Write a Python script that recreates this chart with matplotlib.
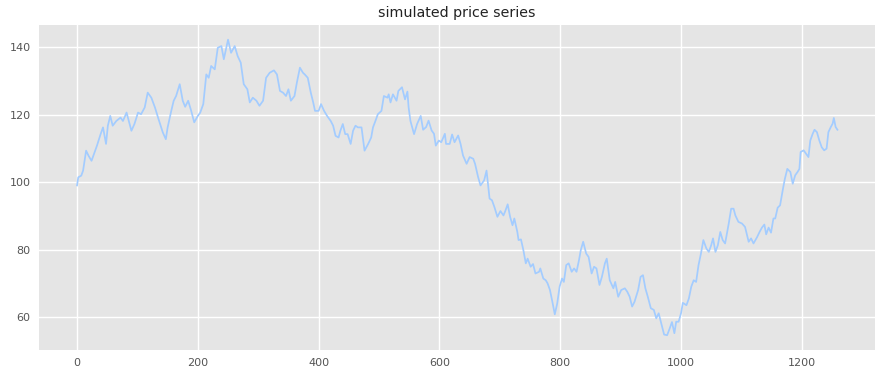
import matplotlib
matplotlib.use("Agg")
import matplotlib.pyplot as plt

# день (індекс) і ціна
days = [0, 2, 7, 10, 15, 19, 24, 29, 33, 39, 43, 48, 51, 55, 59, 65, 72, 76, 82, 90,
        95, 101, 106, 112, 117, 123, 129, 135, 142, 147, 150, 156, 160, 164, 170, 175, 179, 184, 189, 194,
        200, 204, 209, 214, 218, 222, 228, 233, 239, 243, 250, 255, 261, 266, 271, 276, 282, 286, 291, 297,
        302, 308, 313, 319, 326, 331, 336, 341, 346, 350, 354, 360, 364, 369, 374, 377, 382, 387, 391, 394,
        400, 404, 409, 414, 420, 424, 428, 433, 436, 440, 444, 448, 453, 457, 461, 465, 471, 476, 482, 487,
        490, 494, 498, 504, 508, 514, 516, 519, 523, 529, 532, 538, 543, 547, 549, 552, 558, 563, 569, 573,
        578, 582, 587, 591, 594, 599, 603, 609, 611, 617, 621, 625, 631, 635, 639, 645, 650, 656, 659, 664,
        668, 674, 678, 683, 687, 691, 696, 701, 706, 709, 713, 717, 721, 724, 729, 731, 735, 739, 743, 746,
        751, 755, 759, 765, 767, 772, 776, 779, 783, 787, 791, 795, 799, 803, 806, 810, 814, 819, 823, 827,
        831, 834, 838, 843, 847, 852, 856, 860, 865, 869, 874, 877, 882, 888, 891, 896, 901, 907, 911, 915,
        919, 923, 929, 933, 937, 941, 945, 950, 955, 959, 963, 968, 972, 977, 981, 985, 989, 992, 996, 1000,
        1003, 1009, 1013, 1017, 1021, 1025, 1029, 1033, 1037, 1042, 1046, 1050, 1053, 1057, 1061, 1065, 1069, 1073, 1079, 1083,
        1087, 1090, 1095, 1101, 1106, 1112, 1116, 1120, 1126, 1130, 1134, 1138, 1141, 1145, 1149, 1153, 1156, 1160, 1164, 1169,
        1172, 1176, 1181, 1185, 1189, 1193, 1196, 1198, 1203, 1207, 1211, 1214, 1218, 1221, 1225, 1229, 1233, 1237, 1241, 1244,
        1248, 1251, 1253, 1256, 1259]
prices = [99.0, 101.4, 101.9, 103.4, 109.3, 107.8, 106.3, 108.8, 110.8, 114.2, 116.2, 111.3, 116.7, 119.6, 116.7, 118.1, 119.1, 118.1, 120.6, 115.2,
          117.2, 120.6, 120.1, 122.1, 126.5, 125.0, 122.1, 118.6, 114.7, 112.7, 116.2, 121.1, 124.1, 125.5, 129.0, 124.1, 122.3, 124.1, 121.1, 117.7,
          119.6, 120.6, 123.1, 131.9, 130.9, 134.4, 133.4, 139.8, 140.3, 136.4, 142.2, 138.3, 140.3, 137.3, 135.4, 129.0, 127.5, 123.6, 125.0, 124.1,
          122.6, 124.1, 130.9, 132.4, 133.1, 131.9, 127.0, 126.5, 125.5, 127.5, 124.1, 125.5, 129.5, 133.9, 132.4, 131.9, 130.9, 126.5, 123.6, 121.1,
          121.1, 123.1, 121.1, 119.6, 118.1, 116.7, 113.7, 113.2, 115.2, 117.2, 114.2, 114.2, 111.3, 115.2, 116.7, 116.2, 116.2, 109.3, 111.3, 113.2,
          116.2, 118.1, 120.1, 121.1, 125.5, 125.0, 126.0, 123.6, 126.0, 124.1, 127.0, 128.1, 124.5, 126.8, 122.1, 118.1, 114.2, 117.2, 119.6, 115.5,
          116.3, 118.2, 115.3, 114.3, 110.8, 112.3, 111.8, 114.3, 111.3, 111.3, 114.1, 111.8, 113.8, 111.3, 107.9, 105.4, 107.4, 106.9, 105.4, 101.5,
          99.0, 100.5, 103.4, 95.1, 94.6, 92.6, 89.7, 91.4, 90.1, 91.4, 93.4, 89.7, 87.2, 89.2, 85.2, 82.8, 83.0, 79.8, 75.9, 77.3,
          74.9, 75.7, 72.9, 73.4, 74.4, 71.4, 70.9, 70.0, 68.0, 64.5, 60.8, 64.0, 69.0, 71.4, 70.4, 75.4, 75.9, 73.4, 74.4, 73.4,
          76.8, 79.8, 82.3, 78.8, 77.8, 72.9, 74.9, 74.4, 69.5, 71.9, 75.9, 77.3, 70.9, 68.5, 70.4, 66.0, 68.0, 68.5, 67.5, 66.0,
          63.1, 64.5, 68.0, 71.9, 72.4, 68.5, 66.0, 62.6, 62.1, 59.6, 61.1, 57.6, 54.8, 54.6, 56.5, 58.5, 55.2, 58.6, 58.6, 61.1,
          64.2, 63.5, 65.5, 69.0, 70.9, 70.4, 75.4, 78.8, 82.8, 80.3, 79.3, 81.3, 83.3, 79.3, 81.3, 85.2, 82.8, 81.8, 87.7, 92.1,
          92.1, 90.1, 88.2, 87.7, 86.7, 82.3, 83.3, 81.8, 83.7, 85.2, 86.5, 87.4, 84.5, 86.5, 85.0, 89.2, 89.2, 92.4, 93.1, 98.2,
          101.0, 103.9, 103.0, 99.5, 102.0, 103.0, 103.9, 108.9, 109.4, 108.4, 107.4, 112.3, 114.3, 115.5, 114.8, 112.3, 110.3, 109.4, 109.9, 114.8,
          116.3, 117.3, 119.0, 116.3, 115.5]

plt.style.use('ggplot')

fig = plt.figure(figsize=(8.87, 3.77), dpi=100)
ax = fig.add_axes([0.044, 0.0716, 0.943, 0.8624])
ax.set_facecolor('#e5e5e5')

ax.plot(days, prices, color='#a3ccff', linewidth=1.25)

ax.grid(True, color='white', linewidth=1.0)
ax.tick_params(length=0, labelsize=8, labelcolor='#555555', pad=6)
for s in ax.spines.values():
    s.set_visible(False)

ax.set_title('simulated price series', fontsize=10.3, color='#222222', pad=6)

fig.savefig('out.png', dpi=100)
